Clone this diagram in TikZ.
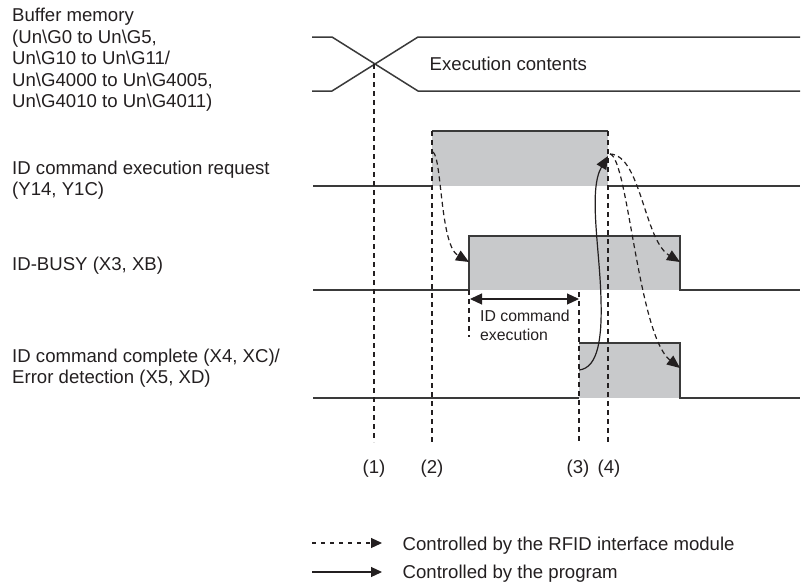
\documentclass[tikz,border=0pt]{standalone}
\usepackage{fontspec}
\setmainfont{Liberation Sans}
\usetikzlibrary{arrows.meta}
\definecolor{ink}{HTML}{231F20}
\definecolor{wire}{HTML}{3A3A3A}
\definecolor{pulsegray}{HTML}{C8C9CB}
\newcommand{\bs}{\textbackslash}
\begin{document}
\begin{tikzpicture}[x=1pt,y=-1pt,
  lbl/.style={anchor=base west,inner sep=0pt,text=ink,font=\fontsize{18.6pt}{21.5pt}\selectfont},
  smalllbl/.style={anchor=base west,inner sep=0pt,text=ink,font=\fontsize{15.8pt}{19pt}\selectfont},
  tagtext/.style={anchor=base,inner sep=0pt,text=ink,font=\fontsize{18.6pt}{21.5pt}\selectfont},
  signal/.style={draw=wire,line width=1.5pt},
  guide/.style={draw=ink,line width=1.2pt,dash pattern=on 5pt off 4pt},
  ctrl/.style={draw=ink,line width=1.2pt,dash pattern=on 5pt off 3.5pt,-{Triangle[length=13pt,width=11pt]}},
  prog/.style={draw=ink,line width=1.2pt,-{Triangle[length=13pt,width=11pt]}},
  pulse/.style={fill=pulsegray}
]
\useasboundingbox (0,0) rectangle (804,584);

% ---- signal names ----
\node[lbl] (bm1) at (12,21.7) {Buffer memory};
\node[lbl] (bm2) at (12,43.2) {(Un\bs G0 to Un\bs G5,};
\node[lbl] (bm3) at (12,64.7) {Un\bs G10 to Un\bs G11/};
\node[lbl] (bm4) at (12,86.2) {Un\bs G4000 to Un\bs G4005,};
\node[lbl] (bm5) at (12,107.7) {Un\bs G4010 to Un\bs G4011)};
\node[lbl] (req1) at (12,174) {ID command execution request};
\node[lbl] (req2) at (12,195.5) {(Y14, Y1C)};
\node[lbl] (busy) at (12,270.5) {ID-BUSY (X3, XB)};
\node[lbl] (cmp1) at (12,362) {ID command complete (X4, XC)/};
\node[lbl] (cmp2) at (12,383.5) {Error detection (X5, XD)};

% ---- buffer memory ----
\draw[signal] (312,37) -- (332,37) -- (418,91) -- (800,91);
\draw[signal] (312,91) -- (332,91) -- (418,37) -- (800,37);
\node[lbl] (exec) at (429.5,70.5) {Execution contents};

% ---- pulses ----
\fill[pulse] (432,131) rectangle (608,186);
\fill[pulse] (469,236) rectangle (680,290);
\fill[pulse] (579,343) rectangle (680,398);

\draw[signal] (313,186) -- (432,186);
\draw[signal] (432,131) -- (608,131);
\draw[signal] (608,186) -- (800,186);

\draw[signal] (313,290) -- (469,290) -- (469,236) -- (680,236) -- (680,290) -- (800,290);

\draw[signal] (313,398) -- (579,398);
\draw[signal] (579,343) -- (680,343) -- (680,398) -- (800,398);

% ---- timing guides ----
\coordinate (g1) at (374,64);
\coordinate (g2) at (432,131);
\coordinate (g3) at (579,292);
\coordinate (g4) at (608,131);
\draw[guide] (g1) -- (374,442);
\draw[guide] (g2) -- (432,442);
\draw[guide] (g3) -- (579,442);
\draw[guide] (g4) -- (608,442);
\draw[guide] (469,290) -- (469,337);

\node[tagtext] (t1) at (374,473) {(1)};
\node[tagtext] (t2) at (432,473) {(2)};
\node[tagtext] (t3) at (578,473) {(3)};
\node[tagtext] (t4) at (609,473) {(4)};

% ---- command execution span ----
\coordinate (spanL) at (470,299);
\coordinate (spanR) at (579,299);
\draw[draw=ink,line width=1.2pt,{Triangle[length=12pt,width=11pt]}-{Triangle[length=12pt,width=11pt]}] (spanL) -- (spanR);
\node[smalllbl] (ex1) at (480,321.7) {ID command};
\node[smalllbl] (ex2) at (480,340.7) {execution};

% ---- handshake arrows ----
\coordinate (reqOn) at (433,152);
\coordinate (busyOn) at (469,262);
\coordinate (reqOff) at (610,154);
\coordinate (busyOff) at (680,262);
\coordinate (cmpOff) at (680,368);
\coordinate (cmpOn) at (579,370);
\coordinate (reqEnd) at (608,156);

\draw[ctrl] (reqOn) .. controls (442,158) and (440,245) .. (busyOn);
\draw[ctrl] (reqOff) .. controls (641,155) and (644,240) .. (busyOff);
\draw[ctrl] (reqOff) .. controls (628,158) and (638,335) .. (cmpOff);
\draw[prog] (cmpOn) .. controls (599,368) and (602,335) .. (601,300)
  .. controls (600,250) and (588,190) .. (reqEnd);

% ---- legend ----
\coordinate (k1a) at (312,543);
\coordinate (k1b) at (382,543);
\coordinate (k2a) at (312,572);
\coordinate (k2b) at (382,572);
\draw[ctrl,dash pattern=on 4pt off 5pt,-{Triangle[length=11pt,width=10pt]}] (k1a) -- (k1b);
\draw[prog,-{Triangle[length=11pt,width=10pt]}] (k2a) -- (k2b);
\node[lbl] (key1) at (402.5,550) {Controlled by the RFID interface module};
\node[lbl] (key2) at (402.5,578) {Controlled by the program};
\end{tikzpicture}
\end{document}
